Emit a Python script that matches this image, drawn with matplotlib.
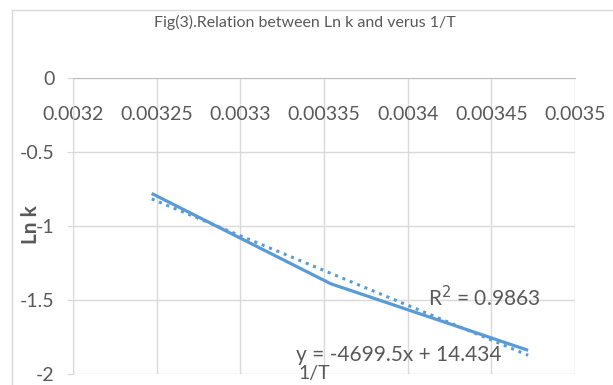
import matplotlib
matplotlib.use("Agg")
import matplotlib.pyplot as plt
import numpy as np
from matplotlib.lines import Line2D

plt.rcParams['font.family'] = ['Lato', 'DejaVu Sans']

# Data
inv_T = [0.003247, 0.003354, 0.003472]
ln_k = [-0.78, -1.39, -1.84]
x_ticks = [0.0032, 0.00325, 0.0033, 0.00335, 0.0034, 0.00345, 0.0035]
x_tick_labels = ['0.0032', '0.00325', '0.0033', '0.00335', '0.0034', '0.00345', '0.0035']
y_ticks = [0, -0.5, -1, -1.5, -2]
y_tick_labels = ['0', '-0.5', '-1', '-1.5', '-2']
title = 'Fig(3).Relation between Ln k and verus 1/T'
eq_text = 'y = -4699.5x + 14.434'
r2_text = 'R$^2$ = 0.9863'

blue = '#5B9BD5'
grey_txt = '#595959'
grid_c = '#d9d9d9'

fig = plt.figure(figsize=(6.13, 3.85), dpi=100)
ax = fig.add_axes([73/613, 1-374/385, (575-73)/613, (374-78)/385])

ax.plot(inv_T, ln_k, color=blue, lw=2.3, solid_capstyle='butt', zorder=3)
coef = np.polyfit(inv_T, ln_k, 1)
xs = np.array([inv_T[0], inv_T[-1]])
ax.plot(xs, np.polyval(coef, xs), color=blue, lw=2.2, linestyle=(0, (1, 1.6)), zorder=4)

ax.set_xlim(0.0032, 0.0035)
ax.set_ylim(-2, 0)
ax.set_xticks(x_ticks)
ax.set_xticklabels(x_tick_labels)
ax.set_yticks(y_ticks)
ax.set_yticklabels(y_tick_labels)

ax.spines['bottom'].set_position(('data', 0))
ax.spines['bottom'].set_color('#bfbfbf')
ax.spines['top'].set_visible(False)
ax.spines['right'].set_visible(False)
ax.spines['left'].set_color(grid_c)
ax.grid(True, color=grid_c, lw=1)
ax.set_axisbelow(True)
ax.tick_params(axis='x', length=0, pad=20, labelsize=14, colors=grey_txt)
ax.tick_params(axis='y', length=4.3, color=grid_c, pad=9, labelsize=14, labelcolor=grey_txt)

ax.text(0.003412, -1.486, r2_text, fontsize=15, color=grey_txt, va='center', ha='left')
ax.text(0.003333, -1.87, eq_text, fontsize=15, color=grey_txt, va='center', ha='left')
ax.text(0.48, 0.003, '1/T', transform=ax.transAxes, fontsize=14, color=grey_txt, va='center', ha='center')

fig.text(31/613, 1-225/385, 'Ln k', rotation=90, fontsize=15, fontweight='bold', color=grey_txt, va='center', ha='center')
fig.text(305/613, 1-22/385, title, fontsize=11.5, color=grey_txt, va='center', ha='center')

# chart border
fig.add_artist(Line2D([12/613, 12/613], [0, 1-10/385], transform=fig.transFigure, color=grid_c, lw=1))
fig.add_artist(Line2D([12/613, 1], [1-10/385, 1-10/385], transform=fig.transFigure, color=grid_c, lw=1))

fig.savefig('out.png', dpi=100)
